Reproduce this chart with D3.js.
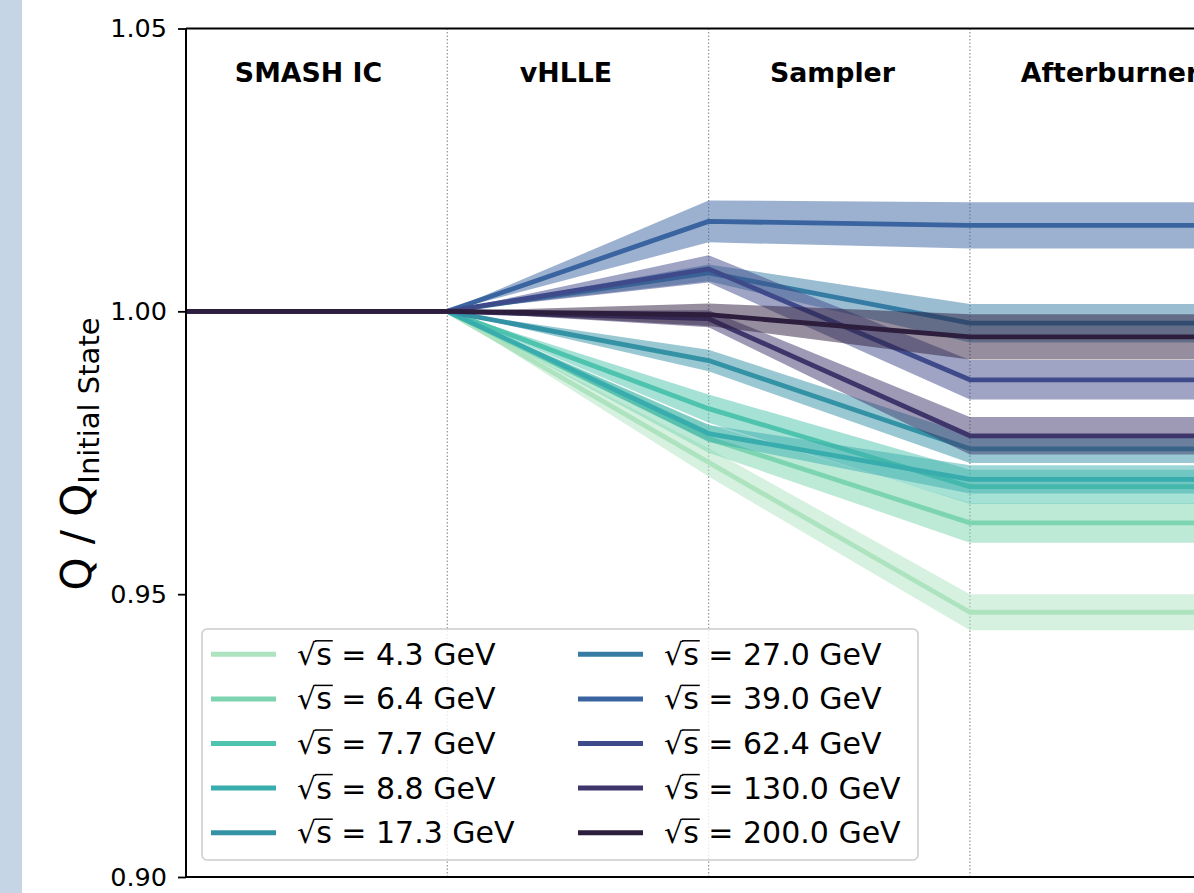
<!DOCTYPE html>
<html>
<head>
<meta charset="utf-8">
<script src="https://cdn.jsdelivr.net/npm/d3@7/dist/d3.min.js"></script>
<style>
  html, body { margin: 0; padding: 0; background: #ffffff; }
  svg { display: block; font-family: "DejaVu Sans", sans-serif; }
</style>
</head>
<body>
<svg id="chart" width="1194" height="893"></svg>
<script>
// ---------------- data ----------------
const stages = ["SMASH IC", "vHLLE", "Sampler", "Afterburner"];
const stageLabelPos = [0.469, 1.454, 2.474, 3.536];
const stageX = [0, 1, 2, 3, 4];
const dividerX = [1, 2, 3];
const energies = ["4.3", "6.4", "7.7", "8.8", "17.3", "27.0", "39.0", "62.4", "130.0", "200.0"];
const colors = ["#aee3c0", "#7cd5b0", "#4ec3ad", "#39adad", "#3492a5", "#357ba3", "#3a64a0", "#3f4a8a", "#3e356b", "#2d1e3e"];
// ratio Q/Q_initial at each stage (SMASH IC, vHLLE, Sampler, Afterburner, end)
const samplerVals     = [0.9733, 0.9775, 0.9828, 0.9784, 0.9913, 1.0068, 1.0159, 1.0075, 0.9987, 0.9994];
const afterburnerVals = [0.9468, 0.9626, 0.9690, 0.9703, 0.9757, 0.9979, 1.0152, 0.9879, 0.9780, 0.9955];
const samplerErr      = [0.0025, 0.0025, 0.0025, 0.0015, 0.0019, 0.0015, 0.0037, 0.0024, 0.0015, 0.0020];
const afterburnerErr  = [0.0032, 0.0035, 0.0030, 0.0025, 0.0025, 0.0034, 0.0041, 0.0035, 0.0033, 0.0040];
const yTicks = [0.90, 0.95, 1.00, 1.05];

// ---------------- layout ----------------
const svg = d3.select("#chart");
const mLeft = 186, mTop = 28.5, mBottom = 877, step = 261.3;
const x = d3.scaleLinear().domain([0, 4]).range([mLeft, mLeft + 4 * step]);
const y = d3.scaleLinear().domain([0.90, 1.05]).range([mBottom, mTop]);

// left light strip
svg.append("rect").attr("x", 0).attr("y", 0).attr("width", 22).attr("height", 893).attr("fill", "#c5d5e6");

// dotted stage dividers
svg.append("g").selectAll("line").data(dividerX).join("line")
  .attr("x1", d => x(d)).attr("x2", d => x(d))
  .attr("y1", y(1.05)).attr("y2", y(0.90))
  .attr("stroke", "#9a9a9a").attr("stroke-width", 1.3).attr("stroke-dasharray", "1.5,2");

// series
const series = energies.map((e, i) => ({
  energy: e, color: colors[i],
  pts: stageX.map((sx, k) => {
    const v = k < 2 ? 1.0 : (k === 2 ? samplerVals[i] : afterburnerVals[i]);
    const err = k < 2 ? 0 : (k === 2 ? samplerErr[i] : afterburnerErr[i]);
    return { x: sx, v, lo: v - err, hi: v + err };
  })
}));

const area = d3.area().x(d => x(d.x)).y0(d => y(d.lo)).y1(d => y(d.hi));
const line = d3.line().x(d => x(d.x)).y(d => y(d.v));

const gSeries = svg.append("g");
series.forEach(s => {
  gSeries.append("path").attr("d", area(s.pts)).attr("fill", s.color).attr("fill-opacity", 0.5);
  gSeries.append("path").attr("d", line(s.pts)).attr("fill", "none")
    .attr("stroke", s.color).attr("stroke-width", 4.8).attr("stroke-linejoin", "round");
});

// axes / spines
const yAxis = d3.axisLeft(y).tickValues(yTicks).tickFormat(d3.format(".2f")).tickSize(8).tickPadding(11);
const gy = svg.append("g").attr("transform", `translate(${mLeft},0)`).call(yAxis);
gy.select(".domain").remove();
gy.selectAll(".tick line").attr("stroke", "#000").attr("stroke-width", 1.8);
gy.selectAll(".tick text").attr("font-family", "DejaVu Sans").attr("font-size", 25.5).attr("fill", "#000");

svg.append("line").attr("x1", mLeft).attr("x2", mLeft).attr("y1", mTop).attr("y2", mBottom)
  .attr("stroke", "#000").attr("stroke-width", 2);
svg.append("line").attr("x1", mLeft).attr("x2", 1194).attr("y1", mTop).attr("y2", mTop)
  .attr("stroke", "#000").attr("stroke-width", 2);
svg.append("line").attr("x1", mLeft).attr("x2", 1194).attr("y1", mBottom).attr("y2", mBottom)
  .attr("stroke", "#000").attr("stroke-width", 2.2);

// stage labels
svg.append("g").selectAll("text").data(stages).join("text")
  .attr("x", (d, i) => x(stageLabelPos[i])).attr("y", 82)
  .attr("text-anchor", "middle").attr("font-weight", "bold").attr("font-size", 26.8)
  .attr("fill", "#000").text(d => d);

// y label
const yl = svg.append("text").attr("transform", "translate(91,454) rotate(-90)")
  .attr("text-anchor", "middle").attr("font-size", 42).attr("fill", "#000");
yl.append("tspan").text("Q / Q");
yl.append("tspan").attr("font-size", 29).attr("dy", 8).text("Initial State");

// legend
const lg = svg.append("g");
lg.append("rect").attr("x", 202).attr("y", 629).attr("width", 716).attr("height", 231)
  .attr("rx", 5).attr("fill", "#fff").attr("fill-opacity", 0.8)
  .attr("stroke", "#cccccc").attr("stroke-width", 1.5);
const colX = [211, 578];
const rowY0 = 654.3, rowStep = 44.6, fs = 30;
series.forEach((s, i) => {
  const c = Math.floor(i / 5), r = i % 5;
  const ly = rowY0 + r * rowStep;
  lg.append("line").attr("x1", colX[c]).attr("x2", colX[c] + 65).attr("y1", ly).attr("y2", ly)
    .attr("stroke", s.color).attr("stroke-width", 5);
  const t = lg.append("text").attr("x", colX[c] + 86).attr("y", ly + 10.5).attr("font-size", fs).attr("fill", "#000");
  t.append("tspan").text("\u221A");
  t.append("tspan").text("s");
  t.append("tspan").text(" = " + s.energy + " GeV");
  const e0 = t.node().getExtentOfChar(0);
  const e1 = t.node().getExtentOfChar(1);
  lg.append("line").attr("x1", e0.x + e0.width - 1).attr("x2", e1.x + e1.width + 1)
    .attr("y1", ly + 10.5 - 0.8 * fs).attr("y2", ly + 10.5 - 0.8 * fs)
    .attr("stroke", "#000").attr("stroke-width", 1.5);
});
</script>
</body>
</html>
